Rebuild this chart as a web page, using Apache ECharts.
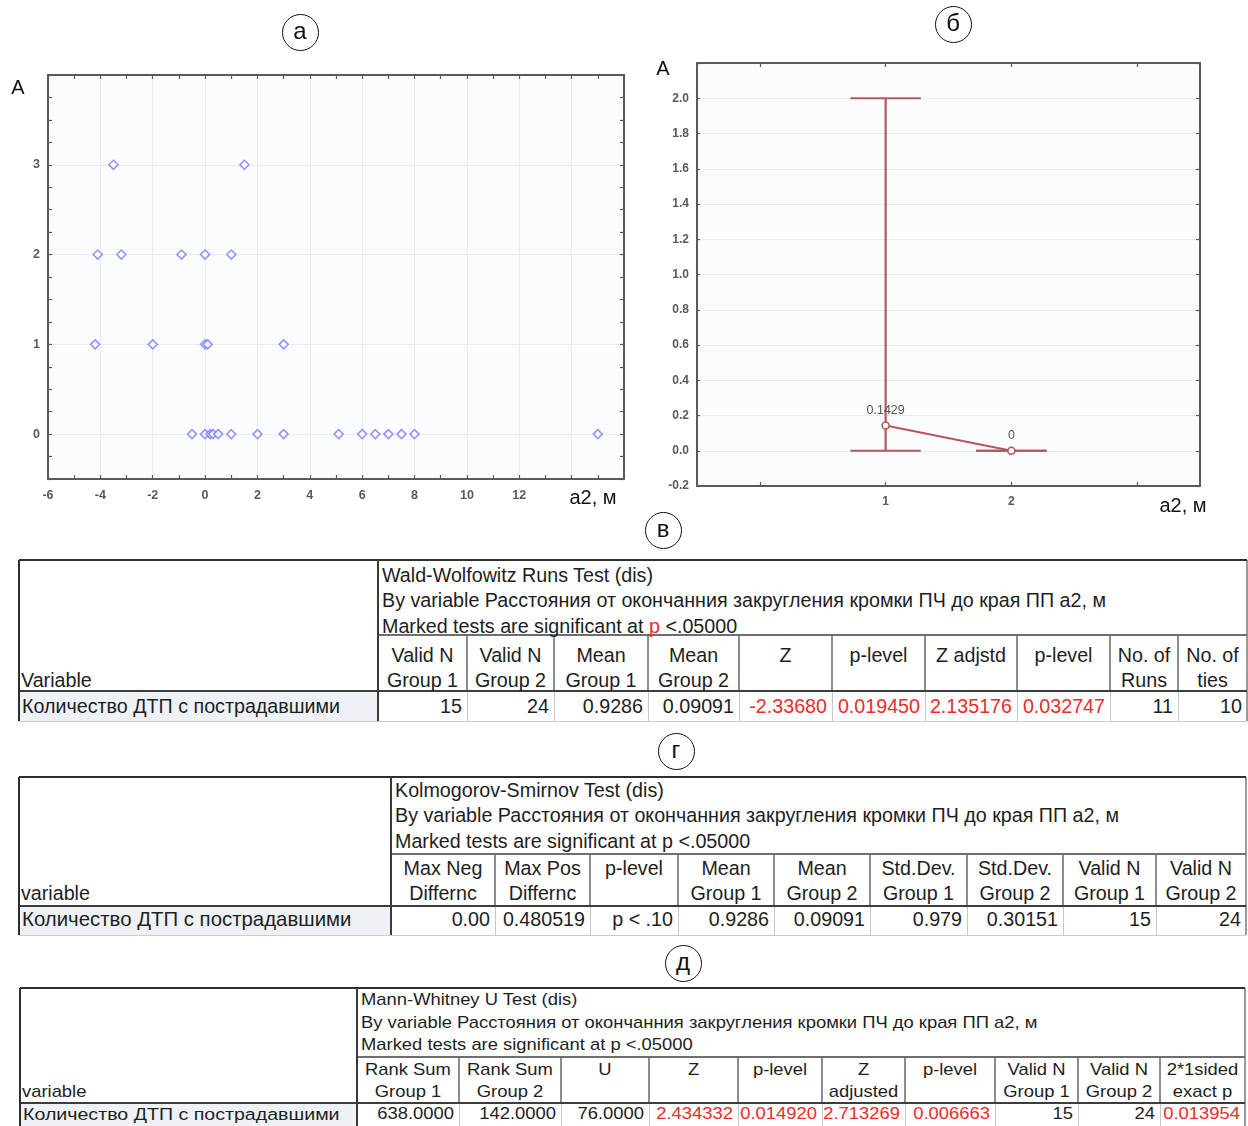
<!DOCTYPE html>
<html><head><meta charset="utf-8"><title>chart</title>
<script src="https://cdn.jsdelivr.net/npm/echarts@6.0.0/dist/echarts.min.js"></script>
<style>
html,body{margin:0;padding:0;background:#ffffff;}
#page{position:relative;width:1248px;height:1126px;overflow:hidden;font-family:"Liberation Sans",Arial,Helvetica,sans-serif;}
#chart{position:absolute;left:0;top:0;width:1248px;height:525px;}
.t{position:absolute;white-space:nowrap;color:#1e1e1e;}
.ln{position:absolute;}
.circ{position:absolute;box-sizing:border-box;width:37px;height:37px;border:1.6px solid #111;border-radius:50%;text-align:center;font-size:24px;line-height:32px;color:#111;}
</style></head>
<body><div id="page"><div id="chart"></div></div>
<script>
// ---------- chart (а): scatter ----------
const aX = [-3.5, 1.5, -4.1, -3.2, -0.9, 0, 1, -4.2, -2, 0, 0.1, 3, -0.5, 0, 0.2, 0.3, 0.5, 1, 2, 3, 5.1, 6, 6.5, 7, 7.5, 8, 15];
const aY = [3, 3, 2, 2, 2, 2, 2, 1, 1, 1, 1, 1, 0, 0, 0, 0, 0, 0, 0, 0, 0, 0, 0, 0, 0, 0, 0];
const aXLabels = [-6, -4, -2, 0, 2, 4, 6, 8, 10, 12];
const aYLabels = [0, 1, 2, 3];

// ---------- chart (б): means with range bars ----------
const bCats = ['0', '1', '2', '3'];
const bGroups = ['1', '2'];
const bMean = [0.1429, 0];
const bLow = [0, 0];
const bHigh = [2.0, 0];
const bXLabels = ['1', '2'];
const bYLabels = ['-0.2', '0.0', '0.2', '0.4', '0.6', '0.8', '1.0', '1.2', '1.4', '1.6', '1.8', '2.0'];

// ---------- tables ----------
const subtitle = 'By variable Расстояния от окончанния закругления кромки ПЧ до края ПП а2, м';
const marked = 'Marked tests are significant at p <.05000';
const rowLabel = 'Количество ДТП с пострадавшими';

const wwTitle = ['Wald-Wolfowitz Runs Test (dis)', subtitle, marked];
const wwHeads = [['Valid N', 'Group 1'], ['Valid N', 'Group 2'], ['Mean', 'Group 1'], ['Mean', 'Group 2'], ['Z', ''], ['p-level', ''], ['Z adjstd', ''], ['p-level', ''], ['No. of', 'Runs'], ['No. of', 'ties']];
const wwValues = ['15', '24', '0.9286', '0.09091', '-2.33680', '0.019450', '2.135176', '0.032747', '11', '10'];
const wwRed = [0, 0, 0, 0, 1, 1, 1, 1, 0, 0];

const ksTitle = ['Kolmogorov-Smirnov Test (dis)', subtitle, marked];
const ksHeads = [['Max Neg', 'Differnc'], ['Max Pos', 'Differnc'], ['p-level', ''], ['Mean', 'Group 1'], ['Mean', 'Group 2'], ['Std.Dev.', 'Group 1'], ['Std.Dev.', 'Group 2'], ['Valid N', 'Group 1'], ['Valid N', 'Group 2']];
const ksValues = ['0.00', '0.480519', 'p < .10', '0.9286', '0.09091', '0.979', '0.30151', '15', '24'];
const ksRed = [0, 0, 0, 0, 0, 0, 0, 0, 0];

const mwTitle = ['Mann-Whitney U Test (dis)', subtitle, marked];
const mwHeads = [['Rank Sum', 'Group 1'], ['Rank Sum', 'Group 2'], ['U', ''], ['Z', ''], ['p-level', ''], ['Z', 'adjusted'], ['p-level', ''], ['Valid N', 'Group 1'], ['Valid N', 'Group 2'], ['2*1sided', 'exact p']];
const mwValues = ['638.0000', '142.0000', '76.0000', '2.434332', '0.014920', '2.713269', '0.006663', '15', '24', '0.013954'];
const mwRed = [0, 0, 0, 1, 1, 1, 1, 0, 0, 1];

// ================= drawing =================
const page = document.getElementById('page');
function el(cls, css, html) {
  const d = document.createElement('div');
  d.className = cls;
  Object.assign(d.style, css);
  if (html !== undefined) d.innerHTML = html;
  page.appendChild(d);
  return d;
}
function hLine(x1, x2, y, w, c) { el('ln', {left: x1 + 'px', top: (y - w / 2) + 'px', width: (x2 - x1) + 'px', height: w + 'px', background: c}); }
function vLine(x, y1, y2, w, c) { el('ln', {left: (x - w / 2) + 'px', top: y1 + 'px', width: w + 'px', height: (y2 - y1) + 'px', background: c}); }
function txt(html, left, width, cy, align, fs, color, sy) {
  const lh = Math.round(fs * 1.2);
  const css = {left: left + 'px', width: width + 'px', top: (cy - lh / 2) + 'px', height: lh + 'px', lineHeight: lh + 'px',
    fontSize: fs + 'px', textAlign: align, color: color || '#1e1e1e'};
  if (sy && sy !== 1) { css.transform = 'scaleY(' + sy + ')'; css.transformOrigin = '50% 50%'; }
  return el('t', css, html);
}

const RED = '#ee2b2b';
function buildTable(T, L) {
  el('ln', {left: L.x0 + 'px', top: L.y2 + 'px', width: (L.xd - L.x0) + 'px', height: (L.y3 - L.y2) + 'px', background: '#eef2f7'});
  for (let i = 1; i < L.cols.length - 1; i++) {
    vLine(L.cols[i], L.y1, L.y2, 1.2, '#8d8d8d');
    vLine(L.cols[i], L.y2, L.y3, 1, '#c4c8cc');
  }
  hLine(L.x0, L.x1, L.y3, 1, '#c8ccd0');
  vLine(L.x1, L.y0, L.y3, 1.2, '#9a9a9a');
  hLine(L.xd, L.x1, L.y1, 1.6, '#6e6e6e');
  hLine(L.x0, L.x1, L.y2, 2, '#3c3c3c');
  hLine(L.x0, L.x1, L.y0, 2.2, '#2e2e2e');
  vLine(L.x0, L.y0, L.y3, 2, '#2e2e2e');
  vLine(L.xd, L.y0, L.y3, 2, '#3a3a3a');
  T.title.forEach((s, i) => {
    let h = s;
    if (T.redP && i === 2) h = s.replace(' p <', ' <span style="color:' + RED + '">p</span> <');
    txt(h, L.xd + 4, L.x1 - L.xd - 6, L.titleY[i], 'left', L.fs, null, L.sy);
  });
  txt(T.leftHead, L.x0 + 2, L.xd - L.x0 - 4, L.headY[1], 'left', L.fs, null, L.sy);
  txt(rowLabel, L.x0 + 3, L.xd - L.x0 - 4, L.dataY, 'left', L.lfs, null, L.sy);
  T.heads.forEach((hd, i) => {
    const a = L.cols[i], b = L.cols[i + 1];
    txt(hd[0], a, b - a, L.headY[0], 'center', L.fs, null, L.sy);
    if (hd[1]) txt(hd[1], a, b - a, L.headY[1], 'center', L.fs, null, L.sy);
    txt(T.values[i], a, b - a - 5, L.dataY, 'right', L.fs, T.red[i] ? RED : null, L.sy);
  });
}

buildTable({title: wwTitle, heads: wwHeads, values: wwValues, red: wwRed, leftHead: 'Variable', redP: true},
  {x0: 19, xd: 378, x1: 1247, y0: 560, y1: 635, y2: 691, y3: 721,
   cols: [378, 467, 554, 648, 739, 832, 925, 1017, 1110, 1178, 1247],
   titleY: [575, 600, 626], headY: [655, 680], dataY: 706, fs: 19.7, lfs: 19.7, sy: 1});
buildTable({title: ksTitle, heads: ksHeads, values: ksValues, red: ksRed, leftHead: 'variable', redP: false},
  {x0: 19, xd: 391, x1: 1246, y0: 777, y1: 854, y2: 906, y3: 935,
   cols: [391, 495, 590, 678, 774, 870, 967, 1063, 1156, 1246],
   titleY: [790, 815, 841], headY: [868, 893], dataY: 919, fs: 19.7, lfs: 20.4, sy: 1});
buildTable({title: mwTitle, heads: mwHeads, values: mwValues, red: mwRed, leftHead: 'variable', redP: false},
  {x0: 20, xd: 357, x1: 1245, y0: 988, y1: 1057, y2: 1103, y3: 1127,
   cols: [357, 459, 561, 649, 738, 822, 905, 995, 1078, 1160, 1245],
   titleY: [1000, 1023, 1045], headY: [1070, 1092], dataY: 1114, fs: 18.4, lfs: 19.6, sy: 0.88});

// circled panel letters
[['а', 300, 32], ['б', 953, 24], ['в', 663, 530], ['г', 676, 751], ['д', 683, 963]].forEach(c => {
  el('circ', {left: (c[1] - 18.5) + 'px', top: (c[2] - 18.5) + 'px'}, c[0]);
});
// axis captions
txt('A', 8, 20, 87, 'center', 20, '#111');
txt('A', 653, 20, 68, 'center', 20, '#111');
txt('а2, м', 563, 60, 497, 'center', 20, '#111');
txt('а2, м', 1153, 60, 505, 'center', 20, '#111');

// ---------- ECharts ----------
const chart = echarts.init(document.getElementById('chart'), null, {renderer: 'canvas'});
const frameA = {show: true, onZero: false, lineStyle: {color: '#5a5a5a', width: 2}};
const tickA = {show: true, inside: true, length: 4, lineStyle: {color: '#5a5a5a', width: 1.2}};
const labA = {color: '#5a5a5a', fontSize: 12.5, fontWeight: 'bold', fontFamily: 'Liberation Sans, Arial, sans-serif'};
const labB = {color: '#5a5a5a', fontSize: 12, fontWeight: 'bold', fontFamily: 'Liberation Sans, Arial, sans-serif'};
const RC = '#b8565b';

const option = {
  animation: false,
  grid: [
    {left: 48, top: 75, width: 576, height: 404, show: true, backgroundColor: '#fafcfe', borderWidth: 0},
    {left: 697, top: 63, width: 503, height: 423, show: true, backgroundColor: '#fafcfd', borderWidth: 0}
  ],
  xAxis: [
    {gridIndex: 0, type: 'value', min: -6, max: 16, interval: 2, axisLine: frameA, axisTick: tickA,
     minorTick: {show: true, splitNumber: 2, length: 4, lineStyle: {color: '#5a5a5a', width: 1.2}},
     axisLabel: Object.assign({margin: 10, formatter: v => aXLabels.includes(v) ? String(v) : ''}, labA),
     splitLine: {show: true, lineStyle: {color: '#e8edf6', width: 1}}},
    {gridIndex: 0, type: 'value', position: 'top', min: -6, max: 16, interval: 2, axisLine: frameA, axisTick: tickA,
     minorTick: {show: true, splitNumber: 2, length: 4, lineStyle: {color: '#5a5a5a', width: 1.2}},
     axisLabel: {show: false}, splitLine: {show: false}},
    {gridIndex: 1, type: 'category', data: bCats, boundaryGap: true, axisLine: frameA,
     axisTick: {show: true, inside: true, length: 4, alignWithLabel: true, lineStyle: {color: '#5a5a5a', width: 1.2}},
     axisLabel: Object.assign({margin: 10, interval: 0, formatter: v => bXLabels.includes(v) ? v : ''}, labB),
     splitLine: {show: false}},
    {gridIndex: 1, type: 'category', data: bCats, position: 'top', boundaryGap: true, axisLine: frameA,
     axisTick: {show: true, inside: true, length: 4, alignWithLabel: true, lineStyle: {color: '#5a5a5a', width: 1.2}},
     axisLabel: {show: false}, splitLine: {show: false}}
  ],
  yAxis: [
    {gridIndex: 0, type: 'value', min: -0.5, max: 4, interval: 0.5, axisLine: frameA, axisTick: tickA,
     minorTick: {show: true, splitNumber: 2, length: 4, lineStyle: {color: '#5a5a5a', width: 1.2}},
     axisLabel: Object.assign({margin: 8, formatter: v => aYLabels.includes(v) ? String(v) : ''}, labA),
     splitLine: {show: true, lineStyle: {color: ['rgba(0,0,0,0)', '#e6ecf5'], width: 1}}},
    {gridIndex: 0, type: 'value', position: 'right', min: -0.5, max: 4, interval: 0.5, axisLine: frameA, axisTick: tickA,
     minorTick: {show: true, splitNumber: 2, length: 4, lineStyle: {color: '#5a5a5a', width: 1.2}},
     axisLabel: {show: false}, splitLine: {show: false}},
    {gridIndex: 1, type: 'value', min: -0.2, max: 2.2, interval: 0.2, axisLine: frameA,
     axisTick: {show: true, inside: true, length: 3, lineStyle: {color: '#5a5a5a', width: 1.2}},
     axisLabel: Object.assign({margin: 8, formatter: v => { const s = v.toFixed(1); return bYLabels.includes(s) ? s : ''; }}, labB),
     splitLine: {show: true, lineStyle: {color: '#e6ecef', width: 1}}},
    {gridIndex: 1, type: 'value', position: 'right', min: -0.2, max: 2.2, interval: 0.2, axisLine: frameA,
     axisTick: {show: true, inside: true, length: 4, lineStyle: {color: '#5a5a5a', width: 1.2}},
     axisLabel: {show: false}, splitLine: {show: false}}
  ],
  series: [
    {type: 'scatter', xAxisIndex: 0, yAxisIndex: 0, symbol: 'diamond', symbolSize: 9,
     itemStyle: {color: '#ffffff', borderColor: '#7b7bff', borderWidth: 1.6},
     data: aX.map((x, i) => [x, aY[i]])},
    {type: 'custom', xAxisIndex: 2, yAxisIndex: 2, z: 3,
     data: bGroups.map((g, i) => [g, bLow[i], bHigh[i]]),
     encode: {x: 0, y: [1, 2]},
     renderItem: (params, api) => {
       const x = api.value(0);
       const pLo = api.coord([x, api.value(1)]);
       const pHi = api.coord([x, api.value(2)]);
       const hw = api.size([1, 0])[0] * 0.28;
       const st = {stroke: RC, lineWidth: 2.2, fill: null};
       return {type: 'group', children: [
         {type: 'line', shape: {x1: pLo[0], y1: pLo[1], x2: pHi[0], y2: pHi[1]}, style: st},
         {type: 'line', shape: {x1: pLo[0] - hw, y1: pLo[1], x2: pLo[0] + hw, y2: pLo[1]}, style: st},
         {type: 'line', shape: {x1: pHi[0] - hw, y1: pHi[1], x2: pHi[0] + hw, y2: pHi[1]}, style: st}
       ]};
     }},
    {type: 'line', xAxisIndex: 2, yAxisIndex: 2, z: 4, symbol: 'circle', symbolSize: 7,
     lineStyle: {color: RC, width: 2},
     itemStyle: {color: '#ffffff', borderColor: RC, borderWidth: 1.6},
     label: {show: true, position: 'top', distance: 4, color: '#555', fontSize: 12.5,
       fontFamily: 'Liberation Sans, Arial, sans-serif', formatter: p => String(p.value[1])},
     data: bGroups.map((g, i) => [g, bMean[i]])}
  ]
};
chart.setOption(option);
</script>
</body></html>
